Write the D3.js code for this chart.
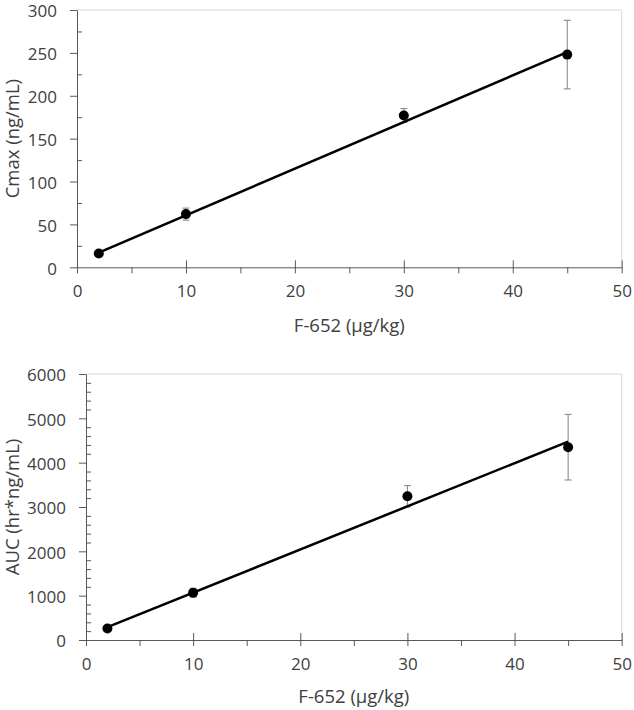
<!DOCTYPE html>
<html>
<head>
<meta charset="utf-8">
<script src="https://cdn.jsdelivr.net/npm/d3@7"></script>
<style>
  html, body { margin: 0; padding: 0; background: #ffffff; }
  svg text { font-family: "Open Sans", sans-serif; fill: #404040; }
</style>
</head>
<body>
<svg id="chart" width="634" height="710"></svg>
<script>
// ---- data ----
const doses = [2, 10, 30, 45];
const cmaxMean = [16, 62, 177, 248];
const cmaxSD = [2, 7, 8, 40];
const aucMean = [260, 1065, 3241, 4349];
const aucSD = [30, 100, 240, 740];
const fitX = [2, 45];
const cmaxFit = [17, 251];
const aucFit = [290, 4475];
const xTicks = [0, 10, 20, 30, 40, 50];
const xMinorTicks = [5, 15, 25, 35, 45];
const cmaxTicks = [0, 50, 100, 150, 200, 250, 300];
const cmaxMinor = [25, 75, 125, 175, 225, 275];
const aucTicks = [0, 1000, 2000, 3000, 4000, 5000, 6000];
const aucMinor = [200, 400, 600, 800, 1200, 1400, 1600, 1800, 2200, 2400, 2600, 2800,
                  3200, 3400, 3600, 3800, 4200, 4400, 4600, 4800, 5200, 5400, 5600, 5800];
const xTitle = "F-652 (µg/kg)";

const svg = d3.select("#chart");
const axisColor = "#595959";
const FONT = "'Open Sans', sans-serif";

function drawPanel(cfg) {
  const x = d3.scaleLinear().domain([0, 50]).range([cfg.left, 621.7]);
  const y = d3.scaleLinear().domain([0, cfg.yMax]).range([cfg.bottom, cfg.top]);
  const g = svg.append("g");

  // plot border (top & right)
  g.append("path")
    .attr("d", `M${x(0)},${y(cfg.yMax)}H${x(50)}V${y(0)}`)
    .attr("fill", "none").attr("stroke", "#d9d9d9").attr("stroke-width", 1);

  // minor ticks
  const yMinor = g.append("g").attr("transform", `translate(${x(0)},0)`)
    .call(d3.axisRight(y).tickValues(cfg.yMinor).tickSize(5).tickFormat(""));
  yMinor.select(".domain").remove();
  yMinor.selectAll("line").attr("stroke", axisColor);

  const xMinor = g.append("g").attr("transform", `translate(0,${y(0)})`)
    .call(d3.axisBottom(x).tickValues(xMinorTicks).tickSize(6).tickFormat(""));
  xMinor.select(".domain").remove();
  xMinor.selectAll("line").attr("stroke", axisColor);

  // y axis
  const ya = g.append("g").attr("transform", `translate(${x(0)},0)`)
    .call(d3.axisLeft(y).tickValues(cfg.yTicks).tickFormat(d3.format("d"))
      .tickSizeInner(7).tickSizeOuter(0).tickPadding(13));
  ya.attr("font-size", 17).attr("font-family", FONT);
  ya.select(".domain").attr("stroke", axisColor);
  ya.selectAll("line").attr("stroke", axisColor);
  ya.selectAll("text").attr("font-size", 17).attr("fill", "#404040").attr("dy", "0.4em");

  // x axis
  const xa = g.append("g").attr("transform", `translate(0,${y(0)})`)
    .call(d3.axisBottom(x).tickValues(xTicks).tickFormat(d3.format("d"))
      .tickSizeInner(6).tickSizeOuter(0).tickPadding(12));
  xa.attr("font-size", 17).attr("font-family", FONT);
  xa.select(".domain").attr("stroke", axisColor);
  xa.selectAll(".tick line").attr("stroke", axisColor).attr("y1", -7);
  xa.selectAll("text").attr("font-size", 17).attr("fill", "#404040");

  // axis titles
  g.append("text")
    .attr("x", (x(0) + x(50)) / 2).attr("y", cfg.xTitleY)
    .attr("text-anchor", "middle").attr("font-size", 18.5).text(xTitle);
  g.append("text")
    .attr("transform", `translate(19,${(y(0) + y(cfg.yMax)) / 2}) rotate(-90)`)
    .attr("text-anchor", "middle").attr("font-size", 18.5).text(cfg.yTitle);

  // error bars
  const eb = g.append("g").attr("stroke", "#808080").attr("stroke-width", 1).attr("fill", "none");
  doses.forEach((d, i) => {
    const lo = y(cfg.mean[i] - cfg.sd[i]), hi = y(cfg.mean[i] + cfg.sd[i]), cx = x(d);
    eb.append("path").attr("d", `M${cx},${lo}V${hi}M${cx - 3.5},${lo}H${cx + 3.5}M${cx - 3.5},${hi}H${cx + 3.5}`);
  });

  // trendline
  g.append("path")
    .datum(fitX.map((v, i) => [v, cfg.fit[i]]))
    .attr("d", d3.line().x(d => x(d[0])).y(d => y(d[1])))
    .attr("fill", "none").attr("stroke", "#000").attr("stroke-width", 2.5);

  // points
  g.selectAll("circle.pt").data(doses).enter().append("circle")
    .attr("cx", d => x(d)).attr("cy", (d, i) => y(cfg.mean[i]))
    .attr("r", 5).attr("fill", "#000");
}

drawPanel({ left: 77, top: 10, bottom: 267.3, yMax: 300, yTicks: cmaxTicks, yMinor: cmaxMinor,
  mean: cmaxMean, sd: cmaxSD, fit: cmaxFit, yTitle: "Cmax (ng/mL)", xTitleY: 332 });
drawPanel({ left: 86, top: 374, bottom: 640, yMax: 6000, yTicks: aucTicks, yMinor: aucMinor,
  mean: aucMean, sd: aucSD, fit: aucFit, yTitle: "AUC (hr*ng/mL)", xTitleY: 703 });
</script>
</body>
</html>
